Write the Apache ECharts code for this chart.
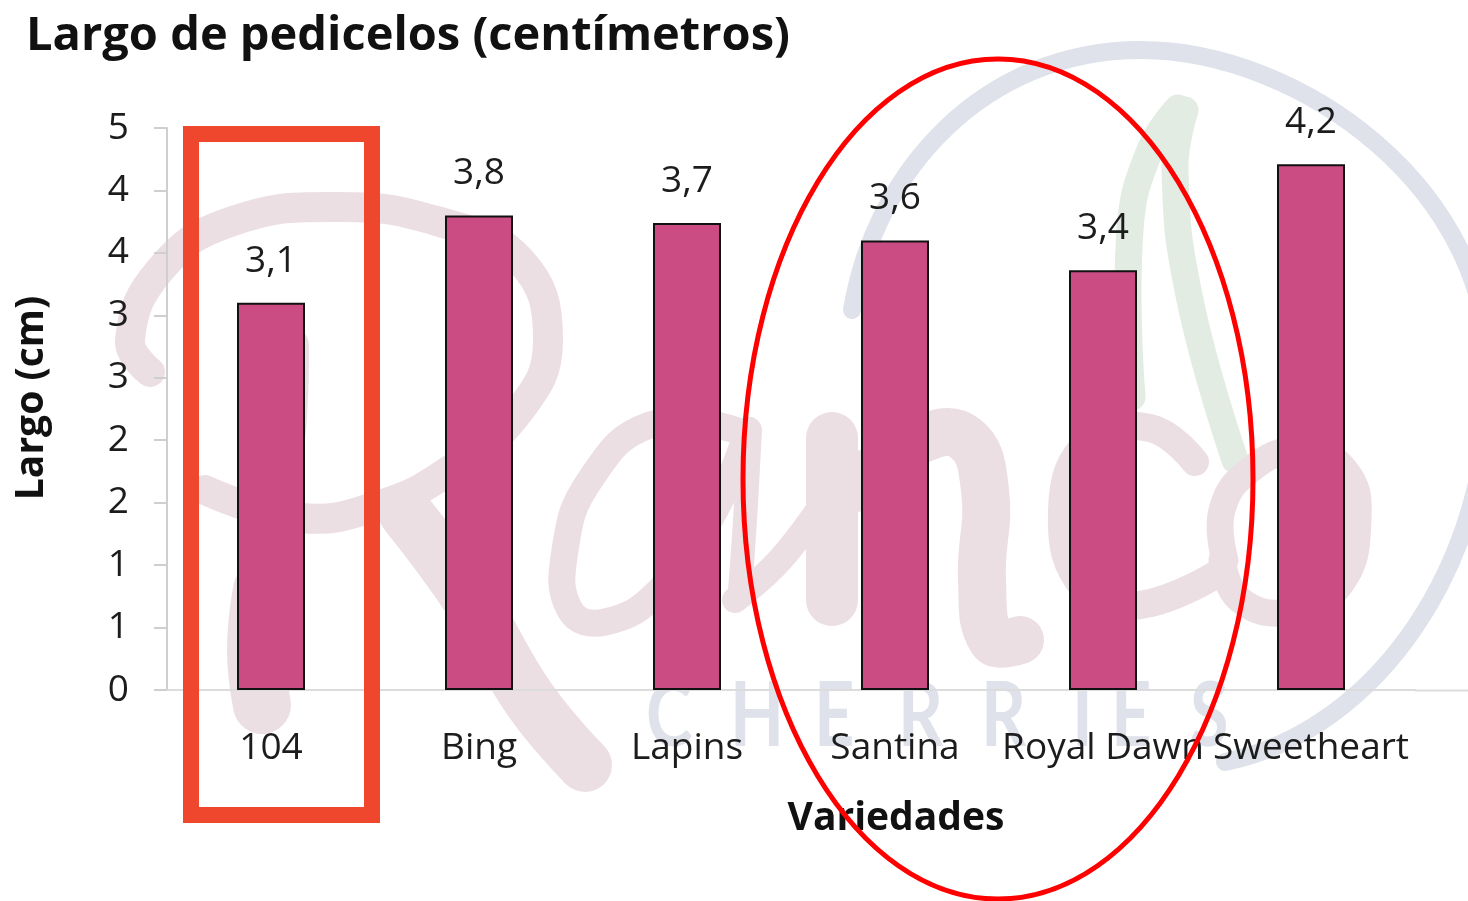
<!DOCTYPE html>
<html><head><meta charset="utf-8">
<style>html,body{margin:0;padding:0;background:#fff}#c{width:1468px;height:901px}</style>
<script src="https://cdn.jsdelivr.net/npm/echarts@6/dist/echarts.min.js"></script>
</head><body><div id="c"></div>
<script>
const categories = ['104','Bing','Lapins','Santina','Royal Dawn','Sweetheart'];
const largo = [3.10,3.80,3.74,3.60,3.36,4.21];
const titleText = 'Largo de pedicelos (centímetros)';
const yName = 'Largo (cm)';
const xName = 'Variedades';

const FONT = '"Open Sans", Lato, sans-serif';
const INK = '#1c1c1c';
const PINK = '#ecdfe3', GREY = '#dfe2ea', GREEN = '#e2ece3';
const stroke = (points, color, w, smooth) => ({
  type:'polyline', z:-1, silent:true,
  shape:{points, smooth: smooth===undefined?0.45:smooth},
  style:{stroke:color, lineWidth:w, fill:null, lineCap:'round', lineJoin:'round'}
});
const curve = (x1,y1,cpx1,cpy1,cpx2,cpy2,x2,y2,color,w) => ({
  type:'bezierCurve', z:-1, silent:true,
  shape:{x1,y1,cpx1,cpy1,cpx2,cpy2,x2,y2},
  style:{stroke:color, lineWidth:w, fill:null, lineCap:'round'}
});
const wm = [
  // circle + leaf
  curve(852,310, 875,170, 985,50, 1141,50, GREY,18),
  curve(1141,50, 1300,50, 1495,190, 1488,380, GREY,18),
  curve(1488,380, 1490,560, 1380,730, 1225,762, GREY,18),
  stroke([[1178,108],[1150,150],[1130,230],[1132,397]],GREEN,27),
  stroke([[1185,110],[1175,170],[1190,300],[1235,460]],GREEN,27),
  // R
  stroke([[205,490],[300,518],[380,505],[450,470],[520,410],[548,340],[520,260],[440,222],[340,207],[230,222],[160,270],[130,340],[150,372]],PINK,30),
  stroke([[292,345],[288,440],[268,560],[256,640]],PINK,34),
  stroke([[262,590],[256,650],[262,705]],PINK,58),
  stroke([[405,512],[470,600],[530,700],[585,765]],PINK,54),
  // a
  stroke([[735,430],[650,425],[590,480],[565,550],[570,610],[605,622],[660,590],[715,510],[748,430]],PINK,27),
  stroke([[750,430],[745,520],[740,590]],PINK,24),
  stroke([[735,600],[780,560],[825,500]],PINK,26),
  // n
  stroke([[832,438],[832,520],[832,600]],PINK,52),
  stroke([[850,490],[920,440],[965,438],[985,490],[982,580],[992,640],[1020,640]],PINK,48),
  // c
  stroke([[1195,462],[1150,428],[1090,440],[1062,510],[1085,590],[1140,605],[1220,572]],PINK,28),
  // o
  stroke([[1225,560],[1222,510],[1250,470],[1300,450],[1345,470],[1358,520],[1340,585],[1290,612],[1240,600],[1222,560]],PINK,27)
];
const cherries = [['C',646],['H',730],['E',814],['R',898],['R',981],['I',1072],['E',1111],['S',1190]].map(([t,x]) => ({
  type:'text', z:-1, silent:true, x, y:672, scaleX:0.78,
  style:{text:t, font:'700 90px Lato, sans-serif', fill:GREY, textVerticalAlign:'top'}
}));
const annotations = [
  {type:'line', z:1, silent:true, shape:{x1:1415,y1:690.5,x2:1468,y2:690.5}, style:{stroke:'#dcdcdc',lineWidth:2}},
  {type:'rect', z:100, silent:true, shape:{x:191,y:134,width:181,height:681}, style:{stroke:'#ef472e',lineWidth:16,fill:null}},
  {type:'ellipse', z:100, silent:true, shape:{cx:998,cy:479,rx:255,ry:420}, style:{stroke:'#ff0000',lineWidth:5,fill:null}}
];

const chart = echarts.init(document.getElementById('c'), null, {renderer:'canvas'});
chart.setOption({
  animation:false,
  backgroundColor:'#ffffff',
  title:{text:titleText,left:21,top:8,textStyle:{fontFamily:FONT,fontWeight:700,fontSize:47,color:'#111'}},
  grid:{left:167,right:53,top:128,bottom:211,containLabel:false},
  xAxis:{type:'category',data:categories,
    axisLine:{lineStyle:{color:'#dcdcdc',width:2}},axisTick:{show:false},
    axisLabel:{interval:0,hideOverlap:false,margin:40,fontFamily:FONT,fontSize:37,color:INK},
    name:xName,nameLocation:'middle',nameGap:109,
    nameTextStyle:{fontFamily:FONT,fontWeight:700,fontSize:39,color:'#111',padding:[0,0,0,210]}},
  yAxis:{type:'value',min:0,max:4.5,interval:0.5,
    axisLine:{show:true,lineStyle:{color:'#cfcfcf',width:2}},
    axisTick:{show:true,length:13,lineStyle:{color:'#cfcfcf',width:2}},
    splitLine:{show:false},
    axisLabel:{margin:38,fontFamily:FONT,fontSize:37,color:INK,padding:[4,0,0,0],formatter:v=>String(Math.round(v))},
    name:yName,nameLocation:'middle',nameGap:116,
    nameTextStyle:{fontFamily:FONT,fontWeight:700,fontSize:39,color:'#111',padding:[0,0,0,22]}},
  series:[{type:'bar',data:largo,barWidth:68,
    itemStyle:{color:'#ca4c82',borderColor:'#111',borderWidth:2},
    label:{show:true,position:'top',distance:23,fontFamily:FONT,fontSize:37,color:INK,
      formatter:p=>p.value.toFixed(1).replace('.',',')}}],
  graphic:{elements:[...wm,...cherries,...annotations]}
});
</script></body></html>
